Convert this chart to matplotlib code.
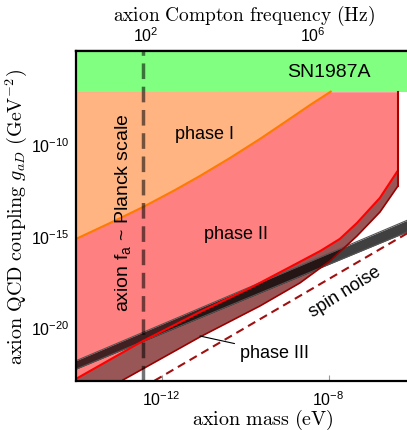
import numpy as np
import matplotlib
matplotlib.use("Agg")
import matplotlib.pyplot as plt
from matplotlib.ticker import FixedLocator, NullLocator
from matplotlib.transforms import ScaledTranslation

plt.rcParams['font.family'] = ['Liberation Sans', 'DejaVu Sans']

# axis ranges (log10)
xlim_log = (-14.05, -6.0)
ylim_log = (-24.0, -6.0)

# SN1987A bound (log10 g)
sn_g = -8.25

# phase I edge (orange line), log10 m / log10 g
phase1_m = [-14.05, -13.235, -12.445, -11.678, -11.079, -10.36, -9.642, -9.043, -8.444, -7.948]
phase1_g = [-16.26, -15.39, -14.52, -13.59, -12.82, -11.84, -10.80, -9.88, -8.95, -8.22]

# phase II lower edge (red line)
phase2_m = [-14.05, -12.445, -11.08, -9.88, -8.92, -8.20, -7.73, -7.32, -6.77, -6.36]
phase2_g = [-23.90, -21.83, -20.25, -18.94, -17.79, -16.92, -16.26, -15.39, -14.02, -12.60]
right_m = -6.33

# phase III lower edge
phase3_m = [-12.924, -11.079, -9.642, -8.683, -7.965, -7.318, -6.767, -6.336]
phase3_g = [-23.96, -21.61, -19.92, -18.66, -17.46, -16.10, -14.79, -13.37]

# QCD axion band (center line, half width)
band_m = [-14.05, -6.0]
band_g = [-23.14, -15.45]
band_hw = [0.23, 0.32]

# spin noise
spin_m = [-12.17, -6.0]
spin_g = [-24.0, -15.8]

# f_a ~ Planck scale
planck_m = -12.445

fig = plt.figure(figsize=(4.07, 4.31), dpi=100)
ax = fig.add_axes([76 / 407, 49.3 / 431, 336 / 407, 329.7 / 431])
ax.set_xscale('log')
ax.set_yscale('log')
ax.set_xlim(10 ** xlim_log[0], 10 ** xlim_log[1])
ax.set_ylim(10 ** ylim_log[0], 10 ** ylim_log[1])

p = lambda a: 10.0 ** np.asarray(a)

# SN1987A
ax.fill_between(p(xlim_log), p(sn_g), p(ylim_log[1]), color='#80ff80', lw=0, zorder=1)

# phase II region
px = [xlim_log[0], right_m] + phase2_m[::-1]
py = [sn_g, sn_g] + phase2_g[::-1]
ax.fill(p(px), p(py), color='#ff8080', lw=0, zorder=2)

# phase I region
px = phase1_m + [xlim_log[0]]
py = phase1_g + [sn_g]
ax.fill(p(px), p(py), color='#ffb482', lw=0, zorder=3)

# phase III region
px = [xlim_log[0]] + phase2_m + [right_m] + phase3_m[::-1] + [phase3_m[0], xlim_log[0]]
py = [ylim_log[0]] + phase2_g + [phase3_g[-1]] + phase3_g[::-1] + [ylim_log[0], ylim_log[0]]
ax.fill(p(px), p(py), color='#985656', lw=0, zorder=3)

# QCD axion band
bm = np.array(band_m)
bc = np.array(band_g)
bh = np.array(band_hw)
ax.fill_between(p(bm), p(bc - bh), p(bc + bh), color='black', alpha=0.75, lw=0, zorder=4)
for s in (-1, 1):
    ax.plot(p(bm), p(bc + s * bh), color='#555555', lw=0.8, zorder=4)

# boundary lines
ax.plot(p(phase1_m), p(phase1_g), color='#ff7a00', lw=1.5, zorder=5)
ax.plot(p(phase2_m), p(phase2_g), color='#ff0000', lw=1.5, zorder=5)
ax.plot(p(phase3_m), p(phase3_g), color='#990000', lw=1.2, zorder=5)
ax.plot(p([right_m, right_m]), p([sn_g, phase3_g[-1]]), color='#aa0000', lw=1.5, zorder=5)
ax.plot(p(spin_m), p(spin_g), color='#a01010', lw=1.5, ls=(0, (4, 2.5)), zorder=5)

# Planck scale line
ax.axvline(10 ** planck_m, color='black', alpha=0.55, lw=2.5, ls=(0, (4.5, 2.2)), zorder=6)

# labels inside
ax.text(10 ** -8.0, 10 ** -7.1, 'SN1987A', fontsize=14, ha='center', va='center', zorder=7)
ax.text(10 ** -10.96, 10 ** -10.48, 'phase I', fontsize=13, ha='center', va='center', zorder=7)
ax.text(10 ** -10.22, 10 ** -15.99, 'phase II', fontsize=13, ha='center', va='center', zorder=7)
ax.text(10 ** -12.9, 10 ** -14.75, r'axion f$_\mathdefault{a}$ ~ Planck scale', fontsize=14,
        rotation=90, ha='center', va='center', zorder=7)
ax.text(10 ** -7.6, 10 ** -19.1, 'spin noise', fontsize=13, rotation=32,
        ha='center', va='center', zorder=7)
ax.annotate('phase III', xy=(10 ** -11.08, 10 ** -21.56), xytext=(10 ** -10.12, 10 ** -22.45),
            fontsize=13, ha='left', va='center', zorder=7,
            arrowprops=dict(arrowstyle='-', lw=0.8, color='black', shrinkA=2, shrinkB=0))

# axes style
for side in ('left', 'bottom', 'top'):
    ax.spines[side].set_linewidth(1.6)
    ax.spines[side].set_zorder(10)
ax.spines['right'].set_visible(False)

ax.xaxis.set_major_locator(FixedLocator([1e-12, 1e-8]))
ax.yaxis.set_major_locator(FixedLocator([1e-20, 1e-15, 1e-10]))
ax.xaxis.set_minor_locator(NullLocator())
ax.yaxis.set_minor_locator(NullLocator())
ax.tick_params(direction='in', length=4, width=0.8, color='#999999', labelsize=11.5, pad=5)
ax.tick_params(axis='x', top=False, pad=6)

sec = ax.secondary_xaxis('top', functions=(lambda m: m * 2.418e14, lambda f: f / 2.418e14))
sec.xaxis.set_major_locator(FixedLocator([1e2, 1e6]))
sec.xaxis.set_minor_locator(NullLocator())
sec.tick_params(direction='in', length=4, width=0.8, color='#999999', labelsize=11.5, pad=5)
sec.spines['top'].set_linewidth(1.6)

ax.set_xlabel(r'$\mathrm{axion\ mass\ (eV)}$', fontsize=14.5, math_fontfamily='cm')
ax.xaxis.set_label_coords(0.555, -0.078)
sec.set_xlabel(r'$\mathrm{axion\ Compton\ frequency\ (Hz)}$', fontsize=14,
               math_fontfamily='cm', labelpad=4)
ax.set_ylabel(r'$\mathrm{axion\ QCD\ coupling}\ g_{aD}\ (\mathrm{GeV}^{-2})$', fontsize=14.5,
              math_fontfamily='cm')
ax.yaxis.set_label_coords(-0.14, 0.5)

# y tick labels sit a little below their ticks in the reference
fig.canvas.draw()
shift = ScaledTranslation(0, -0.2, fig.dpi_scale_trans)
for lbl in ax.get_yticklabels():
    lbl.set_transform(lbl.get_transform() + shift)

fig.savefig('out.png', dpi=100)
